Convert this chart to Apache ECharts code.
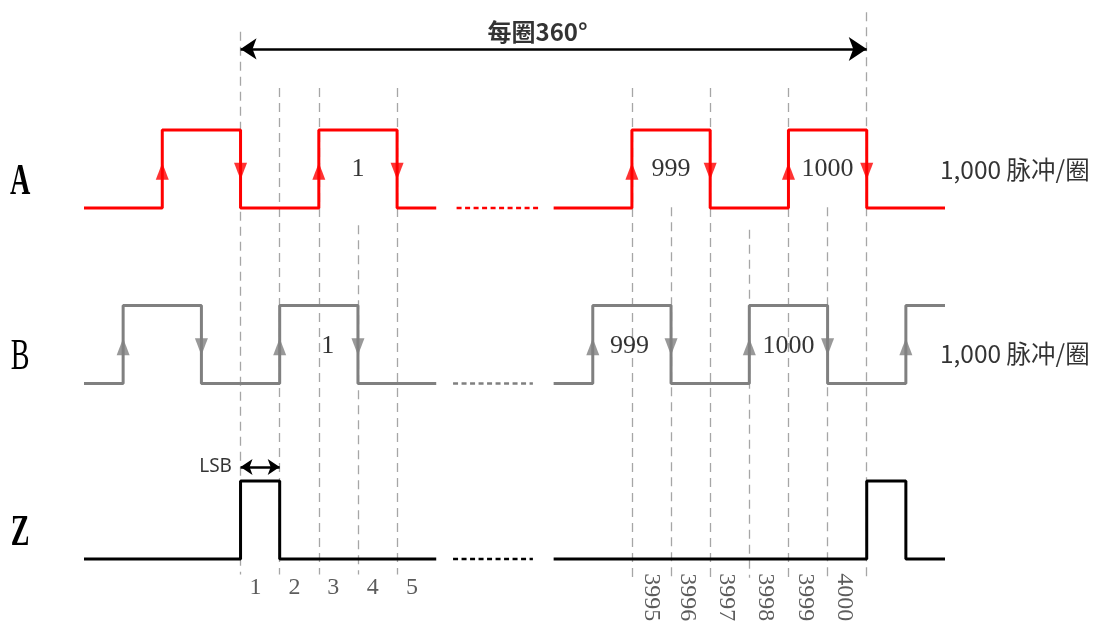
<!DOCTYPE html>
<html><head><meta charset="utf-8">
<script src="https://cdn.jsdelivr.net/npm/echarts@6/dist/echarts.min.js"></script>
<style>html,body{margin:0;padding:0;background:#fff}#c{width:1100px;height:626px}</style>
</head><body><div id="c"></div>
<script>
// time in LSB steps (x), logic level 0/1 (y)
const aLeft  = [[0,0],[2,1],[4,0],[6,1],[8,0],[9,0]];
const aRight = [[12,0],[14,1],[16,0],[18,1],[20,0],[22,0]];
const bLeft  = [[0,0],[1,1],[3,0],[5,1],[7,0],[9,0]];
const bRight = [[12,0],[13,1],[15,0],[17,1],[19,0],[21,1],[22,1]];
const zLeft  = [[0,0],[4,1],[5,0],[9,0]];
const zRight = [[12,0],[20,1],[21,0],[22,0]];
const gapA = [9.52, 11.62];
const gapB = [9.43, 11.47];
const gapZ = [9.43, 11.47];
const rowNames = ['A', 'B', 'Z'];
const pulseLabelsA = [[7, '1'], [15, '999'], [19, '1000']];
const pulseLabelsB = [[6.23, '1'], [13.94, '999'], [18.0, '1000']];
const rateText = '1,000 脉冲/圈';
const guideX   = [4, 5, 6, 7, 8, 14, 15, 16, 17, 18, 19, 20];
const guideTop = [6.76, 6.04, 6.04, 4.28, 6.04, 6.04, 4.51, 6.04, 4.22, 6.04, 4.51, 7.01];
const indexLabelsLeft = ['1', '2', '3', '4', '5'];
const indexXLeft = [4.38, 5.38, 6.37, 7.38, 8.38];
const indexLabelsRight = ['3995', '3996', '3997', '3998', '3999', '4000'];
const indexXRight = [14.49, 15.42, 16.4, 17.42, 18.42, 19.42];
const spanText = '每圈360°';
const spanRange = [4, 20];
const lsbText = 'LSB';
const lsbRange = [4, 5];

// layout / style
const OFF = {A: 4.5, B: 2.25, Z: 0};
const COL = {A: '#ff0000', B: '#808080', Z: '#000000'};
const series = [];

function sig(data, row) {
  series.push({type: 'line', step: 'end', symbol: 'none', clip: false, z: 5, silent: true,
    data: data.map(p => [p[0], p[1] + OFF[row]]),
    lineStyle: {color: COL[row], width: 3}});
}
function gap(range, row) {
  series.push({type: 'line', symbol: 'none', clip: false, z: 5, silent: true,
    data: [[range[0], OFF[row]], [range[1], OFF[row]]],
    lineStyle: {color: COL[row], width: 2.5, type: [5, 3.5]}});
}
function marks(data, row) {
  const pts = [];
  for (let i = 1; i < data.length; i++) {
    if (data[i][1] !== data[i-1][1]) {
      const up = data[i][1] > data[i-1][1];
      pts.push({value: [data[i][0], OFF[row] + 0.47], symbolRotate: up ? 0 : 180});
    }
  }
  series.push({type: 'scatter', symbol: 'triangle', symbolSize: [13, 17], clip: false, z: 6, silent: true,
    itemStyle: {color: COL[row]}, data: pts});
}
sig(aLeft, 'A'); sig(aRight, 'A'); marks(aLeft, 'A'); marks(aRight, 'A'); gap(gapA, 'A');
sig(bLeft, 'B'); sig(bRight, 'B'); marks(bLeft, 'B'); marks(bRight, 'B'); gap(gapB, 'B');
sig(zLeft, 'Z'); sig(zRight, 'Z'); gap(gapZ, 'Z');

// guides
series.push({type: 'lines', coordinateSystem: 'cartesian2d', z: 1, silent: true, clip: false,
  lineStyle: {color: '#a6a6a6', width: 1.3, type: [9, 6], opacity: 1},
  data: guideX.map((x, i) => ({coords: [[x, guideTop[i]], [x, x < 10 ? -0.2 : -0.24]]}))});
// span arrow
series.push({type: 'lines', coordinateSystem: 'cartesian2d', z: 4, silent: true, clip: false,
  symbol: ['arrow', 'arrow'], symbolSize: [16, 18],
  lineStyle: {color: '#000', width: 2.5, opacity: 1},
  data: [{coords: [[spanRange[0], 6.54], [spanRange[1], 6.54]]}]});
series.push({type: 'lines', coordinateSystem: 'cartesian2d', z: 4, silent: true, clip: false,
  symbol: ['arrow', 'arrow'], symbolSize: [12, 12],
  lineStyle: {color: '#000', width: 2.5, opacity: 1},
  data: [{coords: [[lsbRange[0], 1.18], [lsbRange[1], 1.18]]}]});

// text labels
function texts(items, style) {
  series.push({type: 'scatter', symbolSize: 0, clip: false, z: 7, silent: true,
    data: items.map(it => ({value: [it[0], it[1]], name: it[2]})),
    label: Object.assign({show: true, position: 'inside', formatter: p => p.name,
      color: '#000', align: 'center', verticalAlign: 'middle'}, style)});
}
const serif = 'Liberation Serif';
texts(pulseLabelsA.map(p => [p[0], OFF.A + 0.5, p[1]]), {fontFamily: serif, fontSize: 26});
texts(pulseLabelsB.map(p => [p[0], OFF.B + 0.48, p[1]]), {fontFamily: serif, fontSize: 26});
texts([[21.87, OFF.A + 0.49, rateText], [21.87, OFF.B + 0.38, rateText]],
  {fontFamily: 'Noto Sans CJK SC', fontSize: 24.5, align: 'left', color: '#000'});
texts(indexLabelsLeft.map((t, i) => [indexXLeft[i], -0.37, t]), {fontFamily: serif, fontSize: 24, color: '#333'});
texts(indexLabelsRight.map((t, i) => [indexXRight[i], -0.49, t]), {fontFamily: serif, fontSize: 24, color: '#333', rotate: -90});
texts([[11.59, 6.76, spanText]], {fontFamily: 'Noto Sans CJK SC', fontSize: 24, fontWeight: 'bold'});
texts([[3.78, 1.19, lsbText]], {fontFamily: 'Noto Sans', fontSize: 19, align: 'right'});

const chart = echarts.init(document.getElementById('c'));
chart.setOption({
  animation: false,
  backgroundColor: '#fff',
  grid: {left: 84, right: 155, top: 13, bottom: 28},
  xAxis: {type: 'value', min: 0, max: 22, show: false},
  yAxis: {type: 'value', min: -0.5, max: 7, show: false},
  series: series
});
// row names (condensed serif letters) placed via the data coordinate system
const letterY = {A: OFF.A + 0.32, B: OFF.B + 0.33, Z: OFF.Z + 0.33};
const letterWeight = {A: 'bold', B: 'normal', Z: 'bold'};
chart.setOption({
  graphic: rowNames.map(r => {
    const p = chart.convertToPixel({gridIndex: 0}, [-1.63, letterY[r]]);
    return {type: 'text', x: p[0], y: p[1], scaleX: 0.64, silent: true,
      style: {text: r, font: letterWeight[r] + ' 44px "Liberation Serif"', fill: '#000', align: 'center', verticalAlign: 'middle'}};
  })
});
</script>
</body></html>
